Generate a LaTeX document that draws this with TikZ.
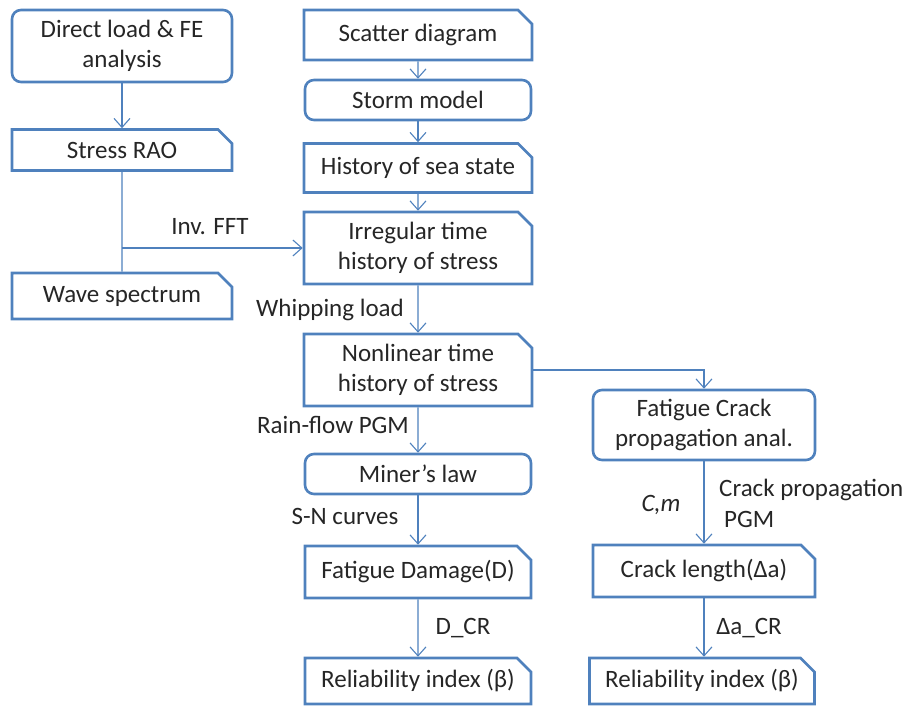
\documentclass[tikz,border=0pt]{standalone}
\usepackage{fontspec}
\setmainfont{Carlito}
\usetikzlibrary{arrows.meta,shapes.misc}
\definecolor{flowblue}{RGB}{79,129,189}
\definecolor{flowtext}{RGB}{38,38,38}
\tikzset{
  box/.style={draw=flowblue,line width=2.6pt,text=flowtext,align=center,
    inner sep=2pt,font=\fontsize{25}{30}\selectfont},
  roundbox/.style={box,rounded corners=9pt},
  snipbox/.style={box,chamfered rectangle,chamfered rectangle corners=north east,
    chamfered rectangle xsep=7pt,chamfered rectangle ysep=7pt},
  link/.style={draw=flowblue,line width=1.1pt,-{Straight Barb[length=9pt,width=16pt,line width=1.1pt]}},
  plain/.style={draw=flowblue,line width=1.1pt},
  lbl/.style={text=flowtext,font=\fontsize{25}{31}\selectfont,inner sep=0pt}
}
\begin{document}
\begin{tikzpicture}[x=1pt,y=-1pt]
  \useasboundingbox (0,0) rectangle (905,706);
  % left column
  \node[roundbox,minimum width=220pt,minimum height=72pt] (dload) at (122,46) {Direct load \& FE\\analysis};
  \node[snipbox,minimum width=220pt,minimum height=41pt] (rao) at (122,150) {Stress RAO};
  \node[snipbox,minimum width=220pt,minimum height=46pt] (wave) at (122,296) {Wave spectrum};
  % middle column
  \node[snipbox,minimum width=228pt,minimum height=50pt] (scatter) at (418,35) {Scatter diagram};
  \node[roundbox,minimum width=226pt,minimum height=40pt] (storm) at (418,100) {Storm model};
  \node[snipbox,minimum width=228pt,minimum height=49pt] (seastate) at (418,168) {History of sea state};
  \node[snipbox,minimum width=228pt,minimum height=72pt] (irreg) at (418,248) {Irregular time\\history of stress};
  \node[snipbox,minimum width=228pt,minimum height=72pt] (nonlin) at (418,370) {Nonlinear time\\history of stress};
  \node[roundbox,minimum width=226pt,minimum height=40pt] (miner) at (418,474) {Miner’s law};
  \node[snipbox,minimum width=226pt,minimum height=52pt] (damage) at (418,572) {Fatigue Damage(D)};
  \node[snipbox,minimum width=226pt,minimum height=46pt] (relL) at (418,681) {Reliability index (β)};
  % right column
  \node[roundbox,minimum width=222pt,minimum height=70pt] (fcrack) at (704,425) {Fatigue Crack\\propagation anal.};
  \node[snipbox,minimum width=222pt,minimum height=52pt] (crackl) at (704,571) {Crack length(Δa)};
  \node[snipbox,minimum width=225pt,minimum height=46pt] (relR) at (702,681) {Reliability index (β)};
  % labels
  \node[lbl] (fft) at (210,227) {Inv. FFT};
  \node[lbl] (whip) at (330,310) {Whipping load};
  \node[lbl] (rain) at (333,425) {Rain-flow PGM};
  \node[lbl] (sn) at (345,516) {S-N curves};
  \node[lbl] (dcr) at (463,628) {D\_CR};
  \node[lbl] (cm) at (661,505) {\itshape C,m};
  \node[lbl,align=left,anchor=west] (cpgm) at (719,503) {Crack propagation\\\hspace{5pt}PGM};
  \node[lbl] (acr) at (749,628) {Δa\_CR};
  % connectors
  \coordinate (branch) at (122,248);
  \draw[link] (dload) -- (rao);
  \draw[plain] (rao) -- (wave);
  \draw[link] (branch) -- (irreg.west);
  \draw[link] (scatter) -- (storm);
  \draw[link] (storm) -- (seastate);
  \draw[link] (seastate) -- (irreg);
  \draw[link] (irreg) -- (nonlin);
  \draw[link] (nonlin) -- (miner);
  \draw[link] (miner) -- (damage);
  \draw[link] (damage) -- (relL);
  \draw[link] (nonlin.east) -| (fcrack.north);
  \draw[link] (fcrack) -- (crackl);
  \draw[link] (crackl.south) -- (crackl.south |- relR.north);
\end{tikzpicture}
\end{document}
